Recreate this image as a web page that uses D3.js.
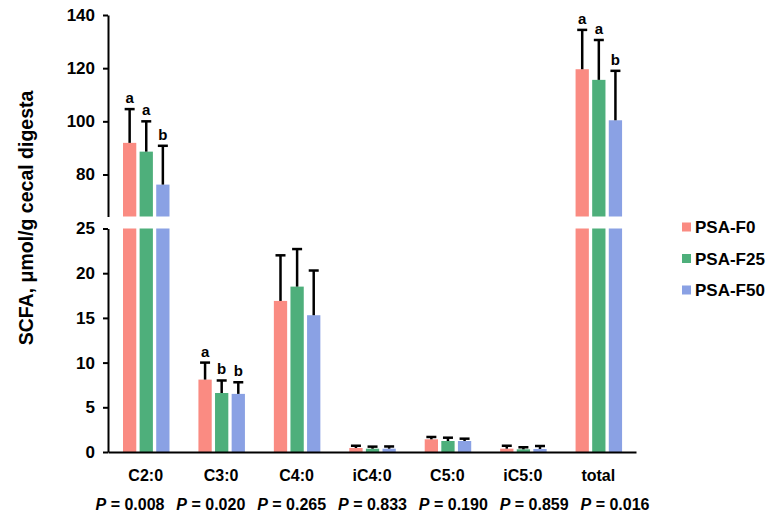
<!DOCTYPE html>
<html>
<head>
<meta charset="utf-8">
<script src="https://cdn.jsdelivr.net/npm/d3@7"></script>
<style>
  body { margin: 0; background: #fff; }
  svg { font-family: "Liberation Sans", Arial, sans-serif; font-weight: bold; }
</style>
</head>
<body>
<svg id="chart" width="770" height="517"></svg>
<script>
// data
const categories = ["C2:0", "C3:0", "C4:0", "iC4:0", "C5:0", "iC5:0", "total"];
const groups = ["PSA-F0", "PSA-F25", "PSA-F50"];
const f0Mean = [91.9, 8.1, 16.9, 0.45, 1.42, 0.37, 119.6];
const f0Sd = [12.7, 1.9, 5.1, 0.25, 0.26, 0.33, 14.8];
const f25Mean = [88.6, 6.6, 18.5, 0.37, 1.23, 0.30, 115.6];
const f25Sd = [11.4, 1.4, 4.2, 0.23, 0.37, 0.23, 15.0];
const f50Mean = [76.2, 6.5, 15.3, 0.37, 1.23, 0.34, 100.4];
const f50Sd = [14.6, 1.3, 5.0, 0.25, 0.26, 0.33, 18.6];
const f0Letters = ["a", "a", "", "", "", "", "a"];
const f25Letters = ["a", "b", "", "", "", "", "a"];
const f50Letters = ["b", "b", "", "", "", "", "b"];
const pValues = ["0.008", "0.020", "0.265", "0.833", "0.190", "0.859", "0.016"];
const lowTicks = [0, 5, 10, 15, 20, 25];
const highTicks = [80, 100, 120, 140];
const colors = ["#FA8B82", "#4EAF7B", "#8AA1E4"];

const means = [f0Mean, f25Mean, f50Mean];
const sds = [f0Sd, f25Sd, f50Sd];
const letters = [f0Letters, f25Letters, f50Letters];

const svg = d3.select("#chart");

// scales (broken y axis: two segments)
const x = d3.scaleBand().domain(categories).range([108, 636]);
const xSub = d3.scaleBand().domain(groups).range([15, 61.5]).paddingInner(0.2);
const yLow = d3.scaleLinear().domain([0, 25]).range([452, 228.5]);
const yHigh = d3.scaleLinear().domain([64.2, 140]).range([216.5, 15]);
const yVal = v => v > 25 ? yHigh(v) : yLow(v);

// flatten into records
const records = [];
categories.forEach((c, i) => {
  groups.forEach((g, j) => {
    records.push({cat: c, group: g, j: j, mean: means[j][i], sd: sds[j][i], letter: letters[j][i]});
  });
});

const bars = svg.append("g");
records.forEach(d => {
  const bx = x(d.cat) + xSub(d.group);
  if (d.mean > 25) {
    bars.append("rect")
      .attr("x", bx).attr("width", xSub.bandwidth())
      .attr("y", yLow(25)).attr("height", yLow(0) - yLow(25))
      .attr("fill", colors[d.j]);
    bars.append("rect")
      .attr("x", bx).attr("width", xSub.bandwidth())
      .attr("y", yHigh(d.mean)).attr("height", yHigh.range()[0] - yHigh(d.mean))
      .attr("fill", colors[d.j]);
  } else {
    bars.append("rect")
      .attr("x", bx).attr("width", xSub.bandwidth())
      .attr("y", yLow(d.mean)).attr("height", yLow(0) - yLow(d.mean))
      .attr("fill", colors[d.j]);
  }
});

// error bars (upper only)
const err = svg.append("g").attr("stroke", "#000").attr("stroke-width", 2.5);
records.forEach(d => {
  const cx = x(d.cat) + xSub(d.group) + xSub.bandwidth() / 2;
  const top = yVal(d.mean + d.sd);
  err.append("line").attr("x1", cx).attr("x2", cx).attr("y1", yVal(d.mean)).attr("y2", top);
  err.append("line").attr("x1", cx - 5).attr("x2", cx + 5).attr("y1", top).attr("y2", top);
  if (d.letter) {
    svg.append("text")
      .attr("x", cx).attr("y", top - 6)
      .attr("text-anchor", "middle")
      .attr("font-size", 15)
      .text(d.letter);
  }
});

// y axes
function styleAxis(g) {
  g.selectAll(".domain").attr("stroke", "#000").attr("stroke-width", 2);
  g.selectAll(".tick line").attr("stroke", "#000").attr("stroke-width", 2);
  g.selectAll(".tick text").attr("font-size", 17).attr("font-weight", "bold").attr("fill", "#000")
    .attr("font-family", "Liberation Sans, Arial, sans-serif");
}
svg.append("g").attr("transform", "translate(108,0)")
  .call(d3.axisLeft(yLow).tickValues(lowTicks).tickSize(5).tickSizeOuter(0).tickPadding(8))
  .call(styleAxis);
svg.append("g").attr("transform", "translate(108,0)")
  .call(d3.axisLeft(yHigh).tickValues(highTicks).tickSize(5).tickSizeOuter(0).tickPadding(8))
  .call(styleAxis);

// x axis
svg.append("g").attr("transform", "translate(0,452)")
  .call(d3.axisBottom(x).tickSize(0).tickSizeOuter(0).tickPadding(18))
  .call(g => {
    g.select(".domain").attr("stroke", "#000").attr("stroke-width", 2);
    g.selectAll(".tick text").attr("font-size", 16).attr("font-weight", "bold").attr("fill", "#000")
      .attr("font-family", "Liberation Sans, Arial, sans-serif");
  });

// P values
const xp = d3.scalePoint().domain(categories).range([130, 615]);
categories.forEach((c, i) => {
  const t = svg.append("text")
    .attr("x", xp(c)).attr("y", 510)
    .attr("text-anchor", "middle")
    .attr("font-size", 16);
  t.append("tspan").attr("font-style", "italic").text("P");
  t.append("tspan").text(" = " + pValues[i]);
});

// y title
svg.append("text")
  .attr("transform", "translate(33,218) rotate(-90)")
  .attr("text-anchor", "middle")
  .attr("font-size", 19.5)
  .text("SCFA, \u03bcmol/g cecal digesta");

// legend
const legend = svg.append("g").attr("transform", "translate(682,227)");
groups.forEach((g, j) => {
  const row = legend.append("g").attr("transform", `translate(0,${j * 31.5})`);
  row.append("rect").attr("x", 0).attr("y", -4.5).attr("width", 9).attr("height", 9).attr("fill", colors[j]);
  row.append("text").attr("x", 13).attr("y", 6).attr("font-size", 17).text(g);
});
</script>
</body>
</html>
